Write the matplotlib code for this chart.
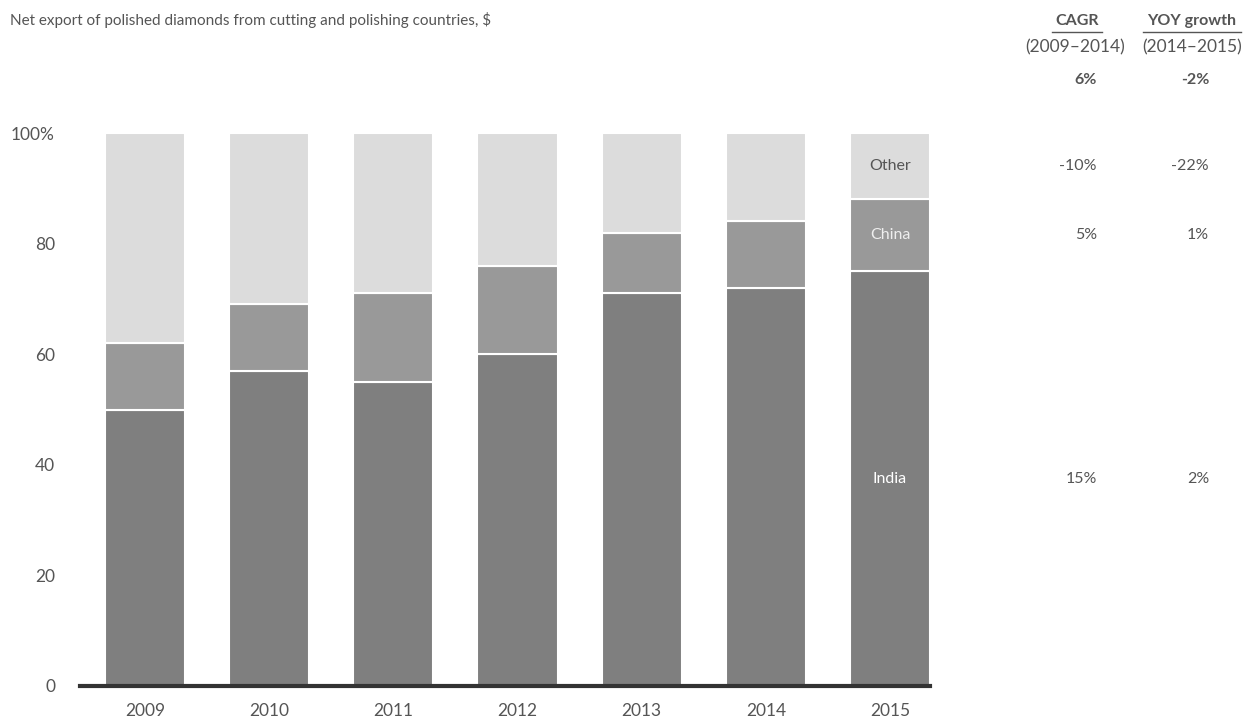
import matplotlib
matplotlib.use('Agg')
import matplotlib.pyplot as plt
import numpy as np

plt.rcParams['font.family'] = ['Lato', 'DejaVu Sans']

years = ['2009', '2010', '2011', '2012', '2013', '2014', '2015']
india = [50, 57, 55, 60, 71, 72, 75]
china = [12, 12, 16, 16, 11, 12, 13]
other = [100 - a - b for a, b in zip(india, china)]

segments = ['India', 'China', 'Other']
cagr = ['15%', '5%', '-10%']
yoy = ['2%', '1%', '-22%']
cagr_total = '6%'
yoy_total = '-2%'

colors = {'India': '#7f7f7f', 'China': '#999999', 'Other': '#dcdcdc'}
txt = '#555555'

W, H = 1260, 726
fig = plt.figure(figsize=(W / 100, H / 100), dpi=100)
ax = fig.add_axes([80 / W, 1 - 686 / H, 850 / W, (686 - 133) / H])

x = np.arange(len(years))
bottom = np.zeros(len(years))
for name, vals in zip(segments, [india, china, other]):
    ax.bar(x, vals, bottom=bottom, width=0.645, color=colors[name],
           edgecolor='white', linewidth=1.5)
    bottom += np.array(vals)

ax.set_xlim(-0.524, 6.3226)
ax.set_ylim(0, 100)
ax.set_xticks(x)
ax.set_xticklabels(years)
ax.set_yticks([0, 20, 40, 60, 80, 100])
ax.set_yticklabels(['0', '20', '40', '60', '80', '100%'])
ax.tick_params(axis='both', length=0, labelsize=12.5, colors=txt)
ax.tick_params(axis='x', pad=12)
ax.tick_params(axis='y', pad=18)
for s in ['top', 'right', 'left']:
    ax.spines[s].set_visible(False)
ax.spines['bottom'].set_color('#333333')
ax.spines['bottom'].set_linewidth(3)

# segment labels inside last bar
last = len(years) - 1
mids = [india[last] / 2, india[last] + china[last] / 2,
        india[last] + china[last] + other[last] / 2]
lab_colors = ['white', '#eeeeee', txt]
for name, m, c in zip(segments, mids, lab_colors):
    ax.text(last, m, name, ha='center', va='center', fontsize=11.5, color=c)

# right-hand growth table
h1, h2 = 1077 / W, 1192 / W
v1, v2 = 1097 / W, 1209 / W
fig.text(h1, 1 - 21 / H, 'CAGR', ha='center', va='center', fontsize=11.5,
         fontweight='bold', color=txt)
fig.text(h2, 1 - 21 / H, 'YOY growth', ha='center', va='center', fontsize=11.5,
         fontweight='bold', color=txt)
for cx, w in [(h1, 50), (h2, 98)]:
    fig.add_artist(plt.Line2D([cx - w / 2 / W, cx + w / 2 / W],
                              [1 - 32 / H, 1 - 32 / H], color=txt, lw=1))
fig.text(h1 - 2 / W, 1 - 47 / H, '(2009–2014)', ha='center', va='center', fontsize=12.5, color=txt)
fig.text(h2, 1 - 47 / H, '(2014–2015)', ha='center', va='center', fontsize=12.5, color=txt)
fig.text(v1, 1 - 80 / H, cagr_total, ha='right', va='center', fontsize=11.5,
         fontweight='bold', color=txt)
fig.text(v2, 1 - 80 / H, yoy_total, ha='right', va='center', fontsize=11.5,
         fontweight='bold', color=txt)

for name, m, c1, c2 in zip(segments, mids, cagr, yoy):
    yf = ax.transData.transform((0, m))[1] / fig.bbox.height
    fig.text(v1, yf, c1, ha='right', va='center', fontsize=11.5, color=txt)
    fig.text(v2, yf, c2, ha='right', va='center', fontsize=11.5, color=txt)

fig.text(10 / W, 1 - 20 / H,
         'Net export of polished diamonds from cutting and polishing countries, $',
         ha='left', va='center', fontsize=11, color=txt)

fig.savefig('out.png', dpi=100, facecolor='white')
